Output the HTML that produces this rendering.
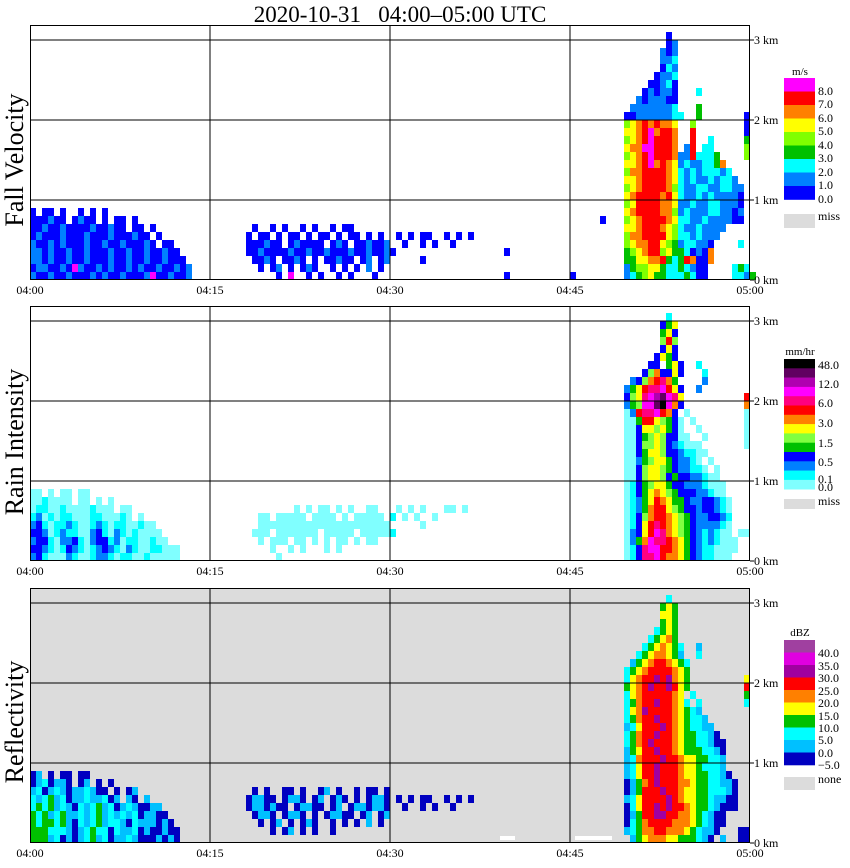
<!DOCTYPE html>
<html><head><meta charset="utf-8"><style>
body{margin:0;background:#fff;}
svg{display:block;font-family:"Liberation Serif",serif;}
</style></head><body>
<svg id="chart" width="850" height="868" viewBox="0 0 850 868" xmlns="http://www.w3.org/2000/svg">
<text x="400" y="22" text-anchor="middle" font-size="23" style="white-space:pre">2020-10-31   04:00–05:00 UTC</text>
<g id="panels"></g>
</svg>
<script>
// ---------- data ----------
const xTickLabels = ["04:00","04:15","04:30","04:45","05:00"];
const xTickMinutes = [0,15,30,45,60];
const yTickKm = [0,1,2,3];
const yTickLabels = ["0 km","1 km","2 km","3 km"];
const cellMinutes = 0.5;
const cellKm = 0.1;

// rows listed from top height bin (3.0-3.1 km) down to 0.0-0.1 km; "col:levels" segments, '.' = empty
const velRows = [
"106:0",
"106:01",
"105:101",
"105:112",
"105:021",
"104:0112",
"103:00120",
"102:010110 111:2",
"101:1011100",
"100:11111112 111:3",
"99:0011111122 111:3 119:0",
"99:456767665 110:4 119:0",
"99:556786776 110:7 119:0",
"99:456787776 110:7 113:2 119:3",
"99:566887776 109:17 112:22 119:4",
"99:456787776 108:1172 112:223 119:4",
"99:556786765 108:1211 112:2236",
"99:466777765 108:2121 112:22212",
"99:556777765 108:21211 113:21221",
"99:456777764 108:211221 114:12211",
"99:567777675 108:2112121 115:1110",
"99:457777665 108:11211221 116:110",
"99:567777664 108:121112211 117:01 0:0.00.0..0.0.0",
"99:456777765 108:2211211110 118:0 0:000100.0100.0.00.0 95:0",
"99:556777654 108:21121111 0:0010010000100100.00.0 37:0..0.0..0.0..0.00",
"99:466777754 108:2212111 0:01000100010001000100.0 36:0.00.0.00.0.00.0.00.0.0 61:0.0.00..0.0.0",
"99:456677543 108:122110 118:2 0:100101000100100100010.00 36:000100.010000.010.001001 62:0..0.0..0",
"99:345677453 108:3201 112:06 0:1101001001000100100100100 36:0010000100100100010010010 79:0",
"99:335566732 108:37600 113:6 0:11010010010001001001001000 37:0010.0010.0.00100.01.01 65:0",
"99:134455322 108:32100 117:232 0:011001081001010010100100101 38:0.01.0.010..0.0.0.1.0",
"99:123453322 108:23200 117:2213 0:100100100010100100018001001 40:.0.8..0.0..0.0...0 79:0 90:0"
];

const rainRows = [
"106:1",
"105:346",
"105:463",
"105:585",
"105:363",
"104:3643",
"103:33.463 111:1",
"102:3573363 112:1",
"100:23578974 112:2",
"99:246899A863 111:2",
"99:3569ABCA96 119:8",
"99:245AACDA73 119:7",
"99:02899A873 109:0 119:0",
"99:0048865430 110:0 119:0",
"99:0036656430 111:0 119:0",
"99:00345653300 112:0 119:0",
"99:0035565321000 119:0",
"99:00346653321100",
"99:0024566432210 113:0",
"99:00356654322110 114:0",
"99:0035665343322100",
"99:01345664332221000",
"99:01346765433322100 0:00.0.00.00",
"99:012468764432233210 0:0010000.00.0.0",
"99:012478865433233210 0:01100100001000.00 44:0.0.00.0.0..00 61:0.0.0...00.0",
"99:013578876543223321 0:12010110001100010.0 38:00.00000.0000.0.00000.1 62:0.0..0",
"99:013689876543222210 0:231011210012101100100 38:0000000000000000000000 65:0",
"99:02368A976543212100 118:00 0:3320121100231021010000 37:000.0000000.00000.000001",
"99:0247A99876432121000 0:23310223102331201100100 38:0.000.00.0.0.00.0.00",
"99:0139AA8876432110000 0:3321013210123210210011000 40:0..0.0...0.0",
"99:01399A877643211000 0:2310002100122101100100000 41:0"
];

const reflRows = [
"106:2",
"105:343",
"105:443",
"105:343",
"104:2343",
"103:23453",
"102:2345432 111:1",
"101:23455431 111:2",
"100:1345665432",
"99:23456666543",
"99:24566767543 119:4",
"99:34567667643 119:6",
"99:2456666654 110:2 119:3",
"99:2356676654 109:2 111:2 119:2",
"99:2457666654321",
"99:23566766543221",
"99:124666765432211",
"99:2356676654332210",
"99:23567666543322100",
"99:13466766543332210",
"99:12566676654433221",
"99:12466766654432221",
"99:124667666544332210 0:01.0.00.00",
"99:0135676665543322110 0:0120110.01.0.0",
"99:0136667665443322210 0:1201210112100.0.01 37:0.0..00.0..01.0..0.00.0",
"99:1246666765443321100 0:212312011211201.10.1 36:01100.0110.01.010.0.0110 61:0.0.00..0.0.0",
"99:0246676766543321000 0:2323121021231201210011 36:0110100.01100.01.0110110 62:0..0.0..0",
"99:01366776655432100 0:32312311212312121201100 37:0110.0110.0.01100.01.01",
"99:02356666555432100 0:323323102123122102111010 38:0.01.0.010..0.0.0.1.0",
"99:1235566555432110 118:00 0:3332221012322021120100100 40:0.01.0.0..0",
"99:.13455544333210 115:1 118:00 0:3331201012312011210001010"
];

const velColors = ["#0000ff","#0080ff","#00ffff","#00c000","#80ff00","#ffff00","#ff8000","#ff0000","#ff00ff"];
const velLegendLabels = ["8.0","7.0","6.0","5.0","4.0","3.0","2.0","1.0","0.0"];
const rainColors = ["#80ffff","#00ffff","#0080ff","#0000ff","#00c000","#80ff40","#ffff00","#ff8000","#ff0000","#ff0080","#ff00ff","#b000b0","#600060","#000000"];
const rainLegendLabels = ["48.0","12.0","6.0","3.0","1.5","0.5","0.1","0.0"];
const reflColors = ["#0000c0","#00c0ff","#00ffff","#00c000","#ffff00","#ff8000","#ff0000","#a000a0","#e000e0","#a040a0"];
const reflLegendLabels = ["40.0","35.0","30.0","25.0","20.0","15.0","10.0","5.0","0.0","−5.0"];

// ---------- rendering ----------
const NS="http://www.w3.org/2000/svg";
const root=document.getElementById('panels');
const X0=30, X1=750, PXPERMIN=12, PXPERKM=80;
function xScale(m){return X0+m*PXPERMIN;}
function mk(tag,attrs,parent){const e=document.createElementNS(NS,tag);for(const k in attrs)e.setAttribute(k,attrs[k]);(parent||root).appendChild(e);return e;}
function lvl(ch){return ch>='A'?10+ch.charCodeAt(0)-65:+ch;}

const panels=[
 {name:"fall-velocity",title:"Fall Velocity",bottom:280,rows:velRows,colors:velColors,bg:"#ffffff",titleY:160},
 {name:"rain-intensity",title:"Rain Intensity",bottom:561,rows:rainRows,colors:rainColors,bg:"#ffffff",titleY:442},
 {name:"reflectivity",title:"Reflectivity",bottom:843,rows:reflRows,colors:reflColors,bg:"#dcdcdc",titleY:722}
];

panels.forEach(p=>{
  const g=mk('g',{});
  
  
  const yScale=km=>p.bottom-km*PXPERKM;
  const top=p.bottom-255;
  const bg=mk('rect',{x:X0,y:top,width:X1-X0,height:255,fill:p.bg},g);
  
  
  if(p.name==="reflectivity"){
    [[500,515],[575,612]].forEach(s=>{const w=mk('rect',{x:s[0],y:p.bottom-7,width:s[1]-s[0],height:4,fill:"#fff"},g);
      
      });
  }
  const cells=mk('g',{},g);
  
  
  const nRows=p.rows.length;
  p.rows.forEach((row,i)=>{
    const h=nRows-1-i;
    row.split(' ').forEach(seg=>{
      if(!seg)return;
      const [c,s]=seg.split(':');
      const c0=+c;
      for(let k=0;k<s.length;k++){
        if(s[k]==='.')continue;
        const col=c0+k;
        const x=xScale(col*cellMinutes), x2=xScale((col+1)*cellMinutes);
        const y=yScale((h+1)*cellKm), y2=yScale(h*cellKm);
        const r=mk('rect',{x:x,y:y,width:x2-x,height:y2-y,fill:p.colors[lvl(s[k])]},cells);
        
        
      }
    });
  });
  yTickKm.forEach((km,i)=>{
    if(km>0){const l=mk('line',{x1:X0,x2:X1,y1:yScale(km),y2:yScale(km),stroke:"#000","stroke-width":1},g);
      
      }
    const tk=mk('line',{x1:X1,x2:X1+4,y1:yScale(km),y2:yScale(km),stroke:"#000"},g);
    
    
    const t=mk('text',{x:X1+4,y:yScale(km)+4,"font-size":12},g);
    t.textContent=yTickLabels[i];
    
    
  });
  xTickMinutes.forEach((m,i)=>{
    if(m>0&&m<60){const l=mk('line',{x1:xScale(m),x2:xScale(m),y1:top,y2:p.bottom,stroke:"#000"},g);
      
      }
    const t=mk('text',{x:xScale(m),y:p.bottom+14,"font-size":12,"text-anchor":"middle"},g);
    t.textContent=xTickLabels[i];
    
    
  });
  const fr=mk('rect',{x:X0+0.5,y:top+0.5,width:X1-X0-1,height:254,fill:"none",stroke:"#000"},g);
  
  
  const tt=mk('text',{x:0,y:0,"font-size":26,"text-anchor":"middle",transform:`translate(23,${p.titleY}) rotate(-90)`},g);
  tt.textContent=p.title;
  
  
});

function legend(name,unit,unitY,colors,topY,blockH,labels,labelYs,missText,missY,missH){
  const g=mk('g',{});
  
  
  const u=mk('text',{x:800,y:unitY,"font-size":11,"text-anchor":"middle"},g);u.textContent=unit;
  
  
  for(let i=0;i<colors.length;i++){
    const c=colors[colors.length-1-i];
    const r=mk('rect',{x:784,y:topY+i*blockH,width:31,height:blockH+0.3,fill:c},g);
    
    
  }
  labels.forEach((l,i)=>{const t=mk('text',{x:818,y:labelYs[i]+4,"font-size":12},g);t.textContent=l;
    
    });
  const m=mk('rect',{x:784,y:missY,width:31,height:missH,fill:"#dcdcdc"},g);
  
  
  const mt=mk('text',{x:818,y:missY+6,"font-size":12},g);mt.textContent=missText;
  
  
}
legend('fall-velocity-legend','m/s',75,velColors,78,13.5,velLegendLabels,[91,104,118,131,145,158,172,185,199],'miss',214,14);
legend('rain-intensity-legend','mm/hr',355,rainColors,359,9.3,rainLegendLabels,[365,384,403,423,443,462,479,487],'miss',499,10);
legend('reflectivity-legend','dBZ',636,reflColors,640,12.5,reflLegendLabels,[653,666,678,691,703,716,728,740,753,765],'none',777,13);
</script>
</body></html>
